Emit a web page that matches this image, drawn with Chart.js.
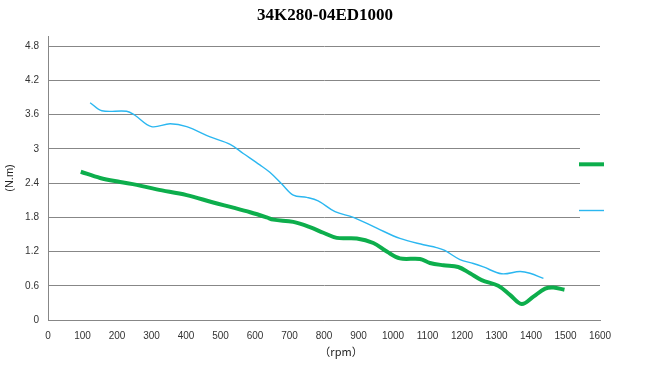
<!DOCTYPE html>
<html>
<head>
<meta charset="utf-8">
<script src="https://cdn.jsdelivr.net/npm/chart.js@4/dist/chart.umd.min.js"></script>
<style>
    html, body { margin: 0; padding: 0; background: #fff; }
    #wrap { width: 645px; height: 370px; }
</style>
</head>
<body>
<div id="wrap"><canvas id="torqueChart"></canvas></div>
<script>
    const chartTitle = '34K280-04ED1000';
    const xTicks = [0, 100, 200, 300, 400, 500, 600, 700, 800, 900, 1000, 1100, 1200, 1300, 1400, 1500, 1600];
    const yTicks = [0, 0.6, 1.2, 1.8, 2.4, 3, 3.6, 4.2, 4.8];

    // green (thick) curve
    const rpmGreen = [95, 151, 209, 257, 315, 402, 479, 537, 586, 634, 653, 711, 759, 798, 837, 895, 943, 982, 1020, 1078, 1107, 1146, 1189, 1223, 1257, 1305, 1339, 1373, 1407, 1441, 1465, 1497];
    const torqueGreen = [2.60, 2.49, 2.42, 2.37, 2.29, 2.19, 2.06, 1.97, 1.89, 1.80, 1.76, 1.72, 1.63, 1.53, 1.44, 1.43, 1.35, 1.20, 1.08, 1.07, 1.00, 0.96, 0.93, 0.82, 0.70, 0.60, 0.44, 0.28, 0.41, 0.55, 0.57, 0.53];

    // blue (thin) curve
    const rpmBlue = [122, 156, 228, 252, 300, 354, 402, 470, 528, 566, 614, 643, 677, 711, 750, 783, 832, 885, 953, 1020, 1088, 1126, 1150, 1194, 1233, 1262, 1315, 1368, 1397, 1436];
    const torqueBlue = [3.81, 3.67, 3.66, 3.59, 3.39, 3.44, 3.39, 3.21, 3.08, 2.92, 2.72, 2.59, 2.39, 2.19, 2.15, 2.09, 1.90, 1.80, 1.61, 1.43, 1.32, 1.27, 1.22, 1.06, 0.99, 0.93, 0.81, 0.85, 0.82, 0.73];

    const toPoints = (xs, ys) => xs.map((x, i) => ({ x: x, y: ys[i] }));
    const gridColor = '#878787';
    const tickFont = { family: 'Liberation Sans', size: 10 };

    // legend box on the right (samples only, no label text), title and x caption
    const sideLegend = {
        id: 'sideLegend',
        afterDatasetsDraw(chart) {
            const ctx = chart.ctx;
            const area = chart.chartArea;
            const yScale = chart.scales.y;
            ctx.save();
            ctx.fillStyle = '#fff';
            ctx.fillRect(area.right - 20, yScale.getPixelForValue(3.25), 45, yScale.getPixelForValue(1.45) - yScale.getPixelForValue(3.25));
            const rows = [yScale.getPixelForValue(2.73), yScale.getPixelForValue(1.92)];
            chart.data.datasets.forEach((ds, i) => {
                ctx.strokeStyle = ds.borderColor;
                ctx.lineWidth = ds.borderWidth;
                ctx.beginPath();
                ctx.moveTo(area.right - 21, rows[i]);
                ctx.lineTo(area.right + 4, rows[i]);
                ctx.stroke();
            });
            ctx.restore();
        },
        afterDraw(chart) {
            const ctx = chart.ctx;
            const mid = chart.chartArea.left + (chart.chartArea.width + 34) / 2;
            ctx.save();
            ctx.textAlign = 'center';
            ctx.textBaseline = 'middle';
            ctx.fillStyle = '#000';
            ctx.font = 'bold 17px "Liberation Serif"';
            ctx.fillText(chartTitle, mid - 16, 16);
            ctx.fillStyle = '#222';
            ctx.font = '11px "Noto Sans CJK SC"';
            ctx.fillText('（rpm）', mid, 352);
            ctx.restore();
        }
    };

    new Chart(document.getElementById('torqueChart'), {
        type: 'line',
        data: {
            datasets: [{
                data: toPoints(rpmGreen, torqueGreen),
                borderColor: '#0DAE4C',
                borderWidth: 4,
                pointRadius: 0,
                tension: 0.35,
                fill: false
            }, {
                data: toPoints(rpmBlue, torqueBlue),
                borderColor: '#2BB7F0',
                borderWidth: 1.4,
                pointRadius: 0,
                tension: 0.35,
                fill: false
            }]
        },
        options: {
            responsive: true,
            maintainAspectRatio: false,
            animation: false,
            layout: { padding: { left: 0, right: 45, top: 36, bottom: 0 } },
            plugins: {
                legend: { display: false },
                tooltip: { enabled: false },
                title: { display: false }
            },
            scales: {
                x: {
                    type: 'linear',
                    min: 0,
                    max: 1600,
                    afterBuildTicks(scale) { scale.ticks = xTicks.map(v => ({ value: v })); },
                    afterFit(scale) { scale.height = 50; },
                    grid: { display: false, drawTicks: false },
                    border: { display: true, color: gridColor, width: 1 },
                    ticks: { color: '#333', font: tickFont, padding: 10, maxRotation: 0, callback: v => String(v) }
                },
                y: {
                    min: 0,
                    max: 4.98,
                    afterBuildTicks(scale) { scale.ticks = yTicks.map(v => ({ value: v })); },
                    afterFit(scale) { scale.width = 48; },
                    grid: { color: gridColor, drawTicks: false, lineWidth: 1 },
                    border: { display: true, color: gridColor, width: 1 },
                    ticks: { color: '#333', font: tickFont, padding: 9, callback: v => String(v) },
                    title: {
                        display: true,
                        text: '(N.m)',
                        color: '#222',
                        font: { family: 'Liberation Sans', size: 11 },
                        padding: { top: 3, bottom: 2 }
                    }
                }
            }
        },
        plugins: [sideLegend]
    });
</script>
</body>
</html>
